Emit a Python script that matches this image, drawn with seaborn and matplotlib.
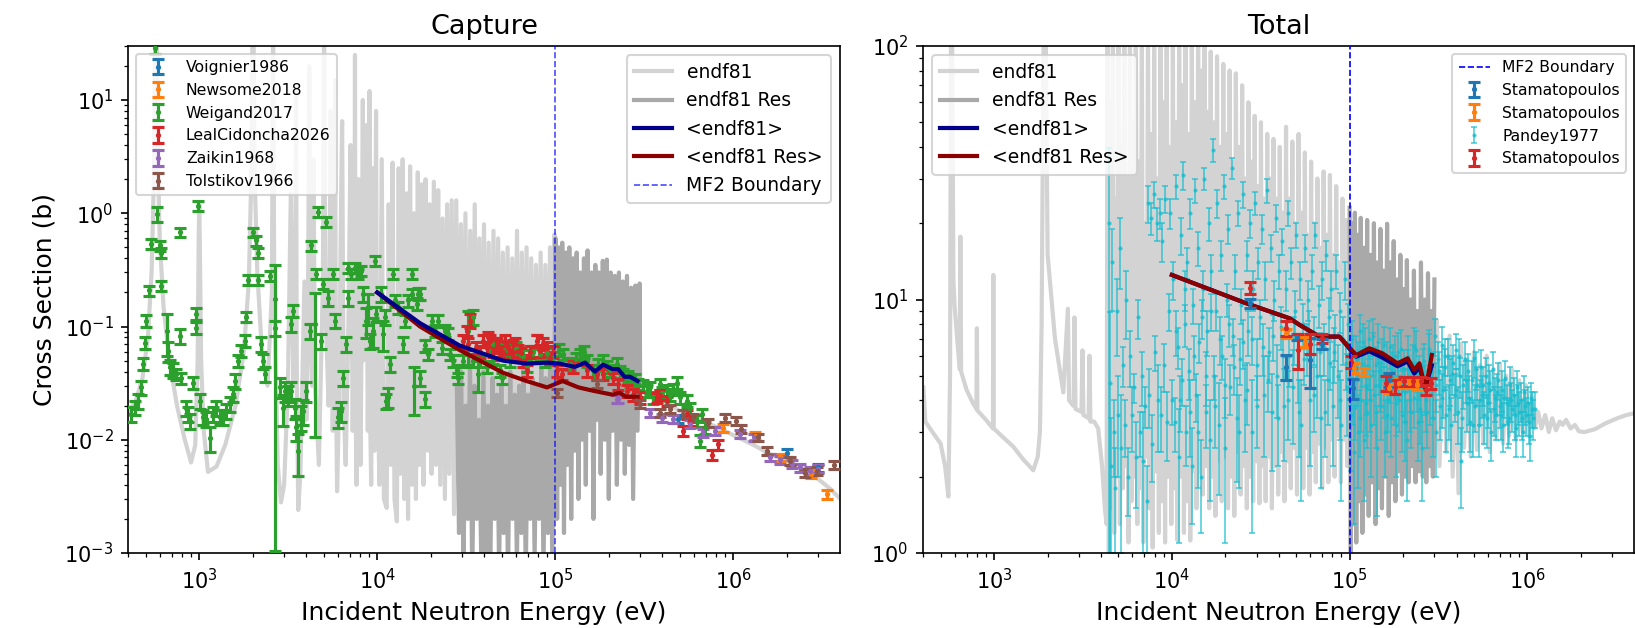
import matplotlib
matplotlib.use("Agg")
import matplotlib.pyplot as plt
import seaborn as sns

plt.rcParams['font.family'] = ['DejaVu Sans']

# ---------------- Capture: evaluated curves (E in eV, xs in barn) ----------------
cap_low = [
    (400, 0.018), (440, 0.022), (480, 0.035), (515, 0.08), (540, 0.3), (558, 2.5),
    (566, 40), (578, 40), (586, 3.0), (600, 0.6), (630, 0.15), (680, 0.05), (750, 0.02),
    (830, 0.01), (900, 0.0063), (950, 0.009), (980, 0.05), (993, 0.6), (1000, 1.2),
    (1007, 0.6), (1025, 0.05), (1060, 0.012), (1120, 0.0052), (1250, 0.0058), (1400, 0.009),
    (1600, 0.02), (1780, 0.06), (1900, 0.25), (1960, 2.0), (1990, 40), (2020, 40), (2050, 2.0),
    (2120, 0.3), (2250, 0.06), (2420, 0.03), (2560, 0.2), (2600, 40), (2640, 0.2),
    (2760, 0.006), (2880, 0.0028), (3000, 0.004), (3150, 0.03), (3270, 1.5), (3380, 0.03),
    (3460, 0.2), (3500, 12), (3530, 0.05), (3600, 0.0024), (3700, 0.005), (3900, 0.25),
    (4000, 0.015), (4100, 0.4), (4150, 20), (4200, 0.1), (4300, 0.03), (4380, 3.0),
    (4480, 0.03), (4700, 0.006), (4950, 0.25), (5030, 40), (5120, 0.15), (5330, 0.02),
    (5480, 8.0), (5620, 0.012), (5750, 0.3), (5800, 15), (5850, 0.05), (5950, 0.0035),
    (6100, 0.02), (6250, 0.9), (6350, 6.5), (6480, 0.02), (6650, 0.006), (6900, 0.12),
    (7080, 4.0), (7280, 0.012), (7450, 0.3), (7500, 25), (7560, 0.02), (7650, 0.004),
    (7850, 2.0), (8050, 0.006), (8250, 0.5), (8300, 10), (8350, 0.05), (8500, 0.4),
    (8650, 6.0), (8850, 0.012), (9000, 0.2), (9050, 12), (9100, 0.02), (9250, 0.004),
    (9450, 2.5), (9650, 0.008), (9850, 8.0), (9950, 0.05),
]
cap_forest = [
    (10300, 0.004), (10600, 3.0), (10900, 0.003), (11300, 0.0025), (11600, 1.2), (11900, 0.006),
    (12200, 2.8), (12500, 0.003), (12900, 0.0019), (13200, 2.5), (13500, 0.005), (13900, 3.0),
    (14200, 0.003), (14600, 1.5), (14900, 0.002), (15300, 2.6), (15700, 0.004), (16100, 1.0),
    (16500, 0.003), (16900, 2.3), (17300, 0.006), (17800, 1.8), (18200, 0.004), (18700, 2.0),
    (19200, 0.008), (19700, 1.2), (20200, 0.005), (20800, 1.9), (21400, 0.006), (22000, 1.6),
    (22600, 0.004), (23300, 0.9), (24000, 0.003), (24700, 1.2), (25400, 0.005), (26200, 1.3),
    (27000, 0.0022), (27800, 1.3), (28600, 0.004), (29500, 0.8), (30400, 0.005), (31300, 1.0),
    (32300, 0.006), (33300, 0.7), (34300, 0.004), (35300, 1.2), (36400, 0.005), (37500, 0.6),
    (38600, 0.006), (39800, 0.8), (41000, 0.004), (42300, 0.55), (43600, 0.006), (45000, 0.7),
    (46400, 0.005), (47800, 0.6), (49300, 0.007), (50800, 0.45), (52400, 0.006), (54000, 0.5),
    (55700, 0.005), (57400, 0.4), (59200, 0.007), (61000, 0.7), (62900, 0.006), (64900, 0.45),
    (66900, 0.008), (69000, 0.5), (71100, 0.006), (73300, 0.4), (75600, 0.008), (77900, 0.35),
    (80300, 0.007), (82800, 0.45), (85400, 0.008), (88000, 0.35), (90700, 0.006), (93500, 0.5),
    (96400, 0.01), (99000, 0.65),
]
cap_smooth = [
    (100000, 0.045), (150000, 0.04), (200000, 0.035), (300000, 0.027), (400000, 0.022),
    (500000, 0.018), (600000, 0.016), (800000, 0.013), (1000000, 0.011), (1300000, 0.009),
    (1600000, 0.0075), (2000000, 0.0065), (2500000, 0.0055), (3000000, 0.0045),
    (3500000, 0.0037), (4000000, 0.003),
]
cap_res = [
    (28000, 0.03), (28800, 0.0015), (29600, 0.04), (30500, 0.0008), (31400, 0.02), (32300, 0.002),
    (33200, 0.05), (34200, 0.0006), (35200, 0.03), (36200, 0.002), (37300, 0.015), (38400, 0.0009),
    (39500, 0.04), (40700, 0.001), (41900, 0.02), (43100, 0.0005), (44400, 0.035), (45700, 0.002),
    (47000, 0.025), (48400, 0.0007), (49800, 0.03), (51300, 0.0015), (52800, 0.02), (54300, 0.0006),
    (55900, 0.04), (57500, 0.002), (59200, 0.025), (60900, 0.0008), (62700, 0.03), (64500, 0.0015),
    (66400, 0.045), (68300, 0.0006), (70300, 0.025), (72300, 0.002), (74400, 0.035), (76600, 0.0009),
    (78800, 0.03), (81100, 0.002), (83500, 0.05), (85900, 0.0007), (88400, 0.035), (91000, 0.0015),
    (93600, 0.045), (96300, 0.0008), (99000, 0.04),
    (100500, 0.6), (102500, 0.002), (104500, 0.5), (107000, 0.004), (109500, 0.55), (112000, 0.0015),
    (114500, 0.45), (117000, 0.006), (120000, 0.5), (123000, 0.002), (126000, 0.4), (129000, 0.008),
    (132000, 0.45), (135000, 0.003), (138000, 0.3), (141500, 0.01), (145000, 0.4), (148500, 0.004),
    (152000, 0.47), (156000, 0.012), (160000, 0.3), (164000, 0.002), (168000, 0.35), (172000, 0.015),
    (176000, 0.3), (180000, 0.005), (185000, 0.38), (190000, 0.01), (195000, 0.39), (200000, 0.003),
    (205000, 0.3), (210000, 0.012), (216000, 0.28), (222000, 0.004), (228000, 0.3), (234000, 0.01),
    (240000, 0.25), (246000, 0.005), (253000, 0.28), (260000, 0.009), (267000, 0.22), (274000, 0.003),
    (282000, 0.23), (290000, 0.012), (298000, 0.24), (300000, 0.03),
]
cap_avg = [
    (10000, 0.2), (17400, 0.107), (29000, 0.068), (51000, 0.050), (69000, 0.047), (90000, 0.048),
    (106000, 0.047), (129000, 0.044), (147000, 0.048), (167000, 0.040), (186000, 0.046),
    (210000, 0.042), (226000, 0.042), (245000, 0.036), (263000, 0.036), (290000, 0.033),
]
cap_avg_res = [
    (10000, 0.2), (17400, 0.10), (29000, 0.062), (51000, 0.039), (69000, 0.033), (90000, 0.029),
    (110000, 0.033), (135000, 0.029), (165000, 0.027), (210000, 0.025), (230000, 0.026),
    (250000, 0.024), (290000, 0.024),
]

# ---------------- Capture: measurements (E, xs, relative error) ----------------
voignier = [(492000, 0.0152, 0.08), (2.0e6, 0.0077, 0.08), (3.0e6, 0.0057, 0.08)]
newsome = [(880000, 0.0128, 0.08), (1.32e6, 0.0108, 0.08), (1.83e6, 0.0070, 0.08),
           (2.75e6, 0.005, 0.08), (3.35e6, 0.0033, 0.1)]
weigand = [
    (416, 0.0168, .15), (434, 0.0193, .15), (453, 0.022, .15), (469, 0.029, .15), (483, 0.047, .12),
    (494, 0.072, .12), (505, 0.113, .12), (520, 0.208, .1), (533, 0.54, .1), (562, 28.6, .1),
    (582, 0.99, .15), (600, 0.52, .1), (613, 0.45, .1), (613, 0.23, .1), (662, 0.092, .4),
    (668, 0.061, .2), (682, 0.044, .15), (713, 0.041, .15), (744, 0.038, .12), (776, 0.68, .1),
    (776, 0.083, .15), (794, 0.035, .12), (847, 0.019, .15), (865, 0.017, .15), (884, 0.0147, .15),
    (922, 0.032, .12), (963, 0.129, .12), (963, 0.098, .12), (985, 1.17, .1), (1006, 0.022, .15),
    (1050, 0.0158, .15), (1096, 0.0152, .15), (1145, 0.0104, .25), (1196, 0.0168, .15),
    (1248, 0.019, .15), (1303, 0.0158, .15), (1360, 0.0158, .15), (1420, 0.018, .15),
    (1483, 0.0206, .15), (1548, 0.0253, .15), (1595, 0.033, .15), (1652, 0.050, .12),
    (1726, 0.061, .12), (1800, 0.075, .12), (1840, 0.121, .1), (1880, 0.26, .1), (2005, 0.68, .1),
    (2094, 0.575, .1), (2140, 0.26, .1), (2140, 0.45, .1), (2234, 0.070, .15), (2282, 0.050, .15),
    (2354, 0.038, .15), (2489, 0.28, .1), (2655, 0.175, .994), (2655, 0.098, .15), (2831, 0.029, .2),
    (2957, 0.019, .3), (3020, 0.027, .2), (3155, 0.025, .2), (3297, 0.027, .2), (3297, 0.105, .15),
    (3380, 0.137, .12), (3436, 0.019, .2), (3515, 0.0129, .25), (3589, 0.0080, .4),
    (3750, 0.0158, .25), (3830, 0.018, .25), (4000, 0.027, .2), (4178, 0.092, .15), (4230, 0.52, .1),
    (4460, 0.105, .9), (4550, 0.29, .1), (4650, 1.03, .1), (4850, 0.075, .15), (4960, 0.238, .1),
    (5180, 0.84, .1), (5290, 0.18, .15), (5650, 0.29, .1), (5770, 0.113, .15), (6030, 0.0158, .2),
    (6290, 0.018, .2), (6430, 0.035, .15), (6710, 0.07, .15), (6850, 0.18, .15), (6850, 0.33, .1),
    (7160, 0.29, .1), (7470, 0.33, .1), (7800, 0.29, .1), (8140, 0.31, .1), (8320, 0.194, .15),
    (8690, 0.113, .3), (8870, 0.148, .3), (9070, 0.075, .15), (9460, 0.092, .3), (9670, 0.38, .1),
    (9890, 0.129, .15), (10540, 0.194, .15), (10800, 0.086, .3), (11020, 0.121, .15),
    (11250, 0.022, .15), (11560, 0.0237, .2), (11800, 0.047, .15), (12300, 0.29, .1),
    (12600, 0.17, .12), (13150, 0.148, .12), (14000, 0.07, .15), (14300, 0.113, .12),
    (14970, 0.17, .12), (15600, 0.29, .1), (15600, 0.194, .1), (16000, 0.03, .45),
    (16700, 0.158, .12), (17000, 0.194, .12), (17400, 0.035, .15), (17500, 0.194, .12),
    (18500, 0.0228, .15), (18500, 0.068, .12), (19400, 0.057, .12), (20200, 0.113, .12),
    (21100, 0.092, .12), (22000, 0.113, .12), (23000, 0.065, .12), (24000, 0.092, .12),
    (25100, 0.086, .12), (25600, 0.057, .12), (26800, 0.05, .12), (27900, 0.041, .12),
    (28400, 0.035, .12), (30500, 0.05, .12), (32500, 0.092, .5), (34700, 0.121, .15),
    (34700, 0.05, .12), (37000, 0.038, .3), (37800, 0.05, .12), (41200, 0.044, .12),
    (44900, 0.053, .12), (45000, 0.07, .12), (49000, 0.041, .12), (50000, 0.035, .12),
    (52000, 0.062, .12), (55700, 0.05, .12), (60000, 0.065, .12), (63400, 0.057, .12),
    (66000, 0.055, .12), (69100, 0.045, .12), (75000, 0.06, .12), (78700, 0.075, .12),
    (82200, 0.057, .12), (87700, 0.05, .12), (90000, 0.058, .12), (97500, 0.053, .12),
    (105000, 0.062, .12), (111000, 0.057, .12), (121000, 0.047, .12), (130000, 0.052, .12),
    (138000, 0.057, .12), (145000, 0.06, .12), (150000, 0.05, .12), (164000, 0.041, .12),
    (175000, 0.046, .12), (186000, 0.05, .12), (195000, 0.044, .12), (203000, 0.041, .12),
    (221000, 0.047, .12), (230000, 0.04, .12), (241000, 0.038, .12), (255000, 0.036, .12),
    (263000, 0.033, .12), (280000, 0.034, .12), (293000, 0.031, .12), (310000, 0.03, .12),
    (327000, 0.027, .12), (340000, 0.029, .12), (356000, 0.0237, .12), (388000, 0.031, .12),
    (400000, 0.026, .12), (423000, 0.027, .12), (440000, 0.025, .12), (461000, 0.028, .12),
    (481000, 0.032, .12), (502000, 0.0237, .12), (547000, 0.022, .12), (571000, 0.019, .12),
    (623000, 0.0147, .12), (651000, 0.0098, .12), (665000, 0.0168, .12), (694000, 0.0128, .12),
]
leal = [
    (30500, 0.075, .12), (31800, 0.092, .1), (32300, 0.07, .12), (33200, 0.113, .15),
    (36000, 0.065, .12), (38000, 0.06, .12), (39400, 0.075, .12), (41200, 0.065, .12),
    (42000, 0.08, .12), (43000, 0.075, .12), (44900, 0.061, .12), (46900, 0.07, .12),
    (48000, 0.066, .12), (49000, 0.057, .12), (51000, 0.06, .12), (52200, 0.075, .12),
    (54600, 0.065, .12), (56900, 0.057, .12), (58000, 0.068, .12), (59400, 0.07, .12),
    (62100, 0.061, .12), (64000, 0.058, .12), (66200, 0.05, .12), (69100, 0.041, .12),
    (72000, 0.06, .12), (78700, 0.075, .12), (82200, 0.061, .12), (85000, 0.07, .12),
    (89500, 0.065, .12), (93500, 0.053, .12), (97000, 0.06, .12), (102000, 0.041, .12),
    (109000, 0.038, .12), (126000, 0.044, .12), (150000, 0.041, .12), (171000, 0.038, .12),
    (186000, 0.038, .12), (212000, 0.035, .12), (226000, 0.031, .12), (252000, 0.027, .12),
    (275000, 0.025, .12), (299000, 0.0237, .12), (371000, 0.0237, .1), (388000, 0.025, .1),
    (423000, 0.022, .1), (525000, 0.012, .1), (547000, 0.0168, .1), (571000, 0.0147, .1),
    (757000, 0.0074, .1), (825000, 0.0091, .1),
]
zaikin = [
    (221000, 0.023, .08), (226000, 0.0229, .08), (340000, 0.0174, .08), (396000, 0.0157, .08),
    (461000, 0.0152, .08), (571000, 0.0137, .08), (680000, 0.0116, .08), (790000, 0.012, .08),
    (1.09e6, 0.0112, .08), (1.30e6, 0.0105, .08), (1.61e6, 0.0070, .08), (1.83e6, 0.0067, .08),
    (2.13e6, 0.0061, .08), (2.37e6, 0.0057, .08), (2.70e6, 0.0053, .08), (3.0e6, 0.0055, .08),
]
tolstikov = [
    (102000, 0.026, .08), (171000, 0.031, .08), (299000, 0.0206, .08), (388000, 0.0174, .08),
    (441000, 0.0186, .08), (525000, 0.0168, .08), (597000, 0.0157, .08), (725000, 0.0142, .08),
    (899000, 0.0157, .08), (1.04e6, 0.0147, .08), (1.11e6, 0.0124, .08), (1.38e6, 0.0105, .08),
    (1.54e6, 0.008, .08), (2.08e6, 0.0065, .08), (2.53e6, 0.0051, .08), (2.94e6, 0.0053, .08),
    (3.7e6, 0.006, .08),
]

# ---------------- Total: evaluated curves ----------------
tot_low = [
    (400, 4.5), (410, 3.3), (450, 3.0), (500, 2.7), (530, 2.2), (553, 1.67), (565, 5.0),
    (572, 120), (580, 120), (590, 12), (600, 9.3), (640, 5.3), (646, 17.7), (652, 5.2),
    (700, 4.4), (760, 3.9), (795, 3.7), (800, 7.7), (805, 3.65), (900, 3.35), (985, 3.1),
    (990, 12.5), (995, 3.1), (1100, 2.9), (1280, 2.63), (1450, 2.35), (1660, 2.12), (1760, 2.4),
    (1810, 3.0), (1850, 8.0), (1900, 120), (1950, 120), (2000, 15), (2200, 7.0), (2450, 4.3),
    (2600, 9.2), (2640, 4.0), (2800, 3.8), (2830, 8.5), (2870, 3.7), (3100, 3.6), (3140, 6.3),
    (3180, 3.5), (3400, 3.4), (3440, 6.0), (3480, 3.3), (3650, 3.3), (3850, 3.1), (4050, 2.2),
    (4200, 1.5), (4290, 1.3),
]
tot_forest = [
    (4350, 120), (4420, 1.0), (4500, 60), (4580, 1.5), (4660, 120), (4740, 1.2), (4830, 25),
    (4920, 2.0), (5010, 120), (5100, 1.3), (5200, 40), (5300, 1.8), (5400, 120), (5500, 2.2),
    (5600, 30), (5700, 1.1), (5810, 120), (5920, 1.6), (6030, 50), (6150, 2.0), (6270, 120),
    (6390, 1.3), (6520, 35), (6650, 1.8), (6780, 120), (6910, 1.1), (7050, 20), (7200, 2.4),
    (7340, 120), (7490, 1.5), (7640, 45), (7800, 1.05), (7950, 120), (8110, 2.1), (8280, 30),
    (8450, 1.2), (8620, 120), (8800, 1.6), (8980, 60), (9160, 1.1), (9350, 120), (9540, 2.0),
    (9730, 40), (9930, 1.3), (10130, 120), (10340, 1.8), (10550, 50), (10770, 1.12),
    (10990, 120), (11220, 2.0), (11450, 70), (11690, 1.2), (11930, 120), (12180, 1.6),
    (12430, 45), (12690, 1.12), (12950, 120), (13220, 2.1), (13490, 60), (13770, 1.5),
    (14050, 120), (14340, 2.07), (14640, 80), (14940, 1.7), (15250, 120), (15560, 2.2),
    (15880, 55), (16210, 1.5), (16540, 95), (16880, 2.0), (17230, 50), (17590, 1.4),
    (17950, 91), (18320, 2.3), (18700, 40), (19080, 1.6), (19470, 85), (19870, 2.4),
    (20280, 45), (20700, 1.5), (21130, 80), (21560, 2.0), (22000, 35), (22450, 1.4),
    (22910, 78), (23380, 2.5), (23860, 40), (24350, 1.7), (24850, 70), (25360, 2.2),
    (25880, 30), (26410, 1.5), (26950, 60), (27500, 2.0), (28070, 35), (28650, 1.6),
    (29240, 53), (29840, 2.3), (30450, 28), (31070, 1.57), (31710, 50), (32360, 2.2),
    (33020, 25), (33700, 1.6), (34390, 45), (35100, 2.4), (35820, 30), (36550, 1.5),
    (37300, 43), (38070, 2.2), (38850, 25), (39650, 1.7), (40460, 40), (41290, 2.5),
    (42140, 22), (43000, 1.6), (43880, 48), (44780, 2.3), (45700, 25), (46640, 1.8),
    (47600, 42), (48580, 2.6), (49570, 20), (50590, 1.7), (51630, 45), (52690, 2.4),
    (53770, 22), (54870, 1.8), (56000, 38), (57150, 2.6), (58320, 18), (59510, 1.7),
    (60730, 35), (61980, 2.5), (63250, 20), (64550, 1.9), (65870, 30), (67220, 2.7),
    (68600, 16), (70010, 1.8), (71440, 32), (72910, 2.6), (74400, 18), (75930, 1.9),
    (77490, 31), (79080, 2.8), (80700, 15), (82350, 2.0), (84040, 28), (85760, 2.9),
    (87520, 14), (89320, 1.9), (91150, 25), (93020, 2.8), (94930, 20.6), (96880, 2.2),
    (98860, 18),
]
tot_high = [
    (103000, 8.0), (107000, 2.0), (111000, 9.0), (115000, 1.8), (120000, 7.5), (125000, 2.2),
    (130000, 8.5), (135000, 1.9), (140000, 7.0), (146000, 2.3), (152000, 8.0), (158000, 2.0),
    (165000, 7.2), (172000, 2.4), (179000, 7.8), (186000, 2.1), (194000, 6.8), (202000, 2.5),
    (210000, 7.5), (219000, 2.2), (228000, 6.5), (237000, 2.6), (247000, 7.2), (257000, 2.3),
    (268000, 6.3), (279000, 2.6), (290000, 7.0), (300000, 2.4), (310000, 8.3), (320000, 2.2),
    (335000, 6.5), (350000, 2.5), (365000, 7.2), (380000, 2.0), (395000, 6.0), (410000, 1.72),
    (425000, 6.7), (440000, 2.6), (460000, 5.8), (480000, 2.4), (500000, 6.2), (520000, 2.55),
    (540000, 5.5), (565000, 2.7), (590000, 6.0), (615000, 2.5), (640000, 5.2), (670000, 2.8),
    (700000, 5.6), (730000, 2.7), (760000, 5.0), (790000, 2.9), (820000, 5.3), (860000, 2.8),
    (900000, 4.8), (940000, 3.0), (980000, 4.6), (1020000, 2.9), (1060000, 4.2), (1100000, 3.1),
    (1150000, 3.6), (1200000, 3.1), (1260000, 3.5), (1320000, 3.0), (1380000, 3.4),
    (1450000, 3.05), (1520000, 3.3), (1580000, 3.2), (1650000, 3.35), (1750000, 3.1),
    (1850000, 3.2), (1950000, 3.02), (2100000, 3.0), (2400000, 3.08), (2760000, 3.25),
    (3200000, 3.4), (3600000, 3.5), (4000000, 3.56),
]
tot_res = [
    (100000, 23), (101500, 1.0), (103000, 20), (105000, 1.3), (107000, 22), (109000, 1.1),
    (111000, 18), (113000, 1.6), (115500, 21), (118000, 1.2), (120500, 16), (123000, 1.7),
    (125500, 20.6), (128000, 1.4), (131000, 15), (134000, 1.9), (137000, 20), (140000, 1.3),
    (143000, 14), (146000, 1.8), (149000, 19), (152000, 1.5), (155500, 13), (159000, 2.0),
    (162500, 19.9), (166000, 1.4), (169500, 14), (173000, 1.9), (177000, 17), (181000, 1.6),
    (185000, 12), (189000, 2.1), (193000, 15), (197000, 1.7), (201000, 11), (205000, 2.0),
    (210000, 14.3), (215000, 1.9), (220000, 10), (225000, 2.2), (230000, 13), (235000, 1.9),
    (240000, 9), (246000, 2.1), (252000, 14), (258000, 2.0), (264000, 10), (270000, 1.9),
    (276000, 12.7), (282000, 2.2), (288000, 9), (294000, 2.0), (300000, 12),
]
tot_avg = [
    (10000, 12.5), (26200, 9.66), (45900, 8.43), (52300, 7.94), (67600, 7.14), (87600, 7.14),
    (109000, 5.95), (129000, 6.25), (153000, 5.9), (186000, 5.45), (212000, 5.7), (231000, 5.1),
    (247000, 5.4), (267000, 4.5), (290000, 5.5),
]
tot_avg_res = [
    (10000, 12.5), (26200, 9.66), (45900, 8.43), (52300, 7.94), (67600, 7.14), (87600, 7.14),
    (109000, 6.04), (129000, 6.42), (153000, 6.13), (186000, 5.6), (212000, 5.86), (231000, 5.27),
    (247000, 5.6), (267000, 4.4), (290000, 6.04),
]

# ---------------- Total: measurements (E, xs, absolute error) ----------------
stam_blue = [(27400, 9.66, 0.4), (44000, 5.43, 0.6), (50400, 7.13, 0.2), (60000, 5.77, 1.3),
             (70000, 6.7, 0.3), (104000, 4.46, 0.4), (167000, 4.82, 0.3)]
stam_orange = [(43700, 7.36, 0.3), (55800, 6.8, 0.3), (106000, 5.36, 0.25), (121000, 5.19, 0.2),
               (167000, 4.46, 0.2), (190000, 4.67, 0.2), (217000, 4.67, 0.2), (240000, 4.6, 0.2)]
stam_red = [(27400, 11.1, 0.6), (43700, 7.7, 0.5), (51200, 6.3, 1.0), (60000, 6.7, 0.6),
            (70000, 7.03, 0.3), (102000, 5.69, 0.3), (160000, 4.67, 0.3), (179000, 4.53, 0.3),
            (203000, 4.75, 0.2), (226000, 4.75, 0.2), (252000, 4.75, 0.2), (269000, 4.4, 0.2),
            (287000, 4.67, 0.25)]
pandey_low = [
    (4420, 20, 19.5), (4500, 4.7, 4.2), (4550, 2.2, 1.2), (4620, 14, 5), (4700, 3.0, 1.0),
    (4800, 1.8, 0.8), (4900, 9, 3), (5000, 3.5, 1.5), (5100, 16, 5), (5200, 2.6, 1.6),
    (5300, 5.5, 1.0), (5450, 3.2, 0.8), (5550, 10, 3), (5700, 2.0, 0.6), (5850, 6.0, 1.5),
    (6000, 3.5, 1.0), (6150, 4.5, 0.6), (6300, 2.4, 0.9), (6450, 8.5, 1.5), (6600, 3.0, 0.6),
    (6750, 5.0, 1.2), (6900, 2.3, 1.3), (7050, 3.8, 0.7), (7200, 1.6, 0.6), (7300, 24, 4),
    (7450, 4.2, 1.1), (7600, 21, 3), (7750, 2.7, 0.8), (7900, 26, 3), (8050, 6.2, 1.0),
    (8200, 20, 3), (8400, 4.0, 1.5), (8550, 22, 3), (8700, 3.5, 1.0), (8850, 17, 3),
    (9000, 5.5, 1.2), (9200, 25, 3), (9400, 3.3, 1.0), (9600, 9.0, 1.5), (9800, 22, 3),
    (10000, 4.0, 0.8),
]
pandey_mid = [
    (10200, 12, 2), (10400, 3.3, 0.8), (10600, 28, 3), (10800, 6.5, 1.2), (11000, 2.4, 1.3),
    (11200, 18, 3), (11400, 4.8, 1.0), (11600, 31, 4), (11800, 8, 1.5), (12000, 3.0, 0.8),
    (12200, 14, 2), (12450, 5.2, 1.2), (12700, 22, 3), (12950, 2.2, 0.9), (13200, 9.5, 1.5),
    (13450, 27, 3), (13700, 4.2, 0.9), (14000, 16, 2.5), (14300, 6.8, 1.2), (14600, 2.0, 0.8),
    (14900, 11, 2), (15200, 30, 3), (15500, 3.6, 1.0), (15800, 7.5, 1.5), (16100, 20, 3),
    (16400, 2.8, 1.2), (16700, 13, 2), (17000, 39, 4), (17300, 5.0, 1.0), (17700, 9, 1.5),
    (18000, 24, 3), (18400, 3.2, 1.5), (18800, 15, 2), (19200, 6.0, 1.2), (19600, 28, 3),
    (20000, 2.6, 1.5), (20400, 10, 1.5), (20800, 19, 2.5), (21200, 4.5, 1.0), (21700, 33, 3),
    (22100, 7.2, 1.2), (22600, 13, 2), (23100, 3.4, 1.5), (23600, 22, 2.5), (24100, 5.8, 1.2),
    (24600, 9.5, 1.5), (25200, 26, 3), (25700, 4.0, 1.5), (26300, 15, 2), (26900, 7.5, 1.5),
    (27500, 20, 2.5), (28100, 3.0, 1.8), (28700, 11, 2), (29400, 24, 2.5), (30000, 5.5, 1.5),
    (30700, 14, 2), (31400, 8.5, 1.5), (32100, 19, 2.5), (32800, 4.2, 1.8), (33600, 12, 2),
    (34300, 27, 3), (35100, 6.2, 1.5), (35900, 16, 2), (36700, 3.6, 1.5), (37500, 10, 1.8),
    (38400, 21, 2.5), (39200, 5.0, 1.6), (40100, 13, 2), (41000, 7.8, 1.5), (41900, 17, 2),
    (42900, 3.8, 1.5), (43800, 11, 2), (44800, 22, 2.5), (45800, 6.0, 1.5), (46800, 14, 2),
    (47900, 4.5, 1.8), (49000, 9, 1.8), (50100, 18, 2), (51200, 5.5, 1.6), (52400, 12, 2),
    (53600, 3.2, 1.6), (54800, 8, 1.6), (56000, 16, 2), (57300, 6.5, 1.5), (58600, 10, 1.8),
    (59900, 4.0, 1.8), (61300, 13, 2), (62700, 7.0, 1.5), (64100, 18, 2), (65600, 5.0, 1.6),
    (67100, 9.5, 1.8), (68600, 3.4, 1.6), (70200, 12, 2), (71800, 6.5, 1.5), (73400, 15, 2),
    (75100, 4.8, 1.6), (76800, 8.5, 1.6), (78500, 11, 2), (80300, 3.8, 1.6), (82100, 6.2, 1.5),
    (84000, 13, 2), (85900, 5.0, 1.6), (87900, 9, 1.6), (89900, 3.2, 1.6), (91900, 7.0, 1.5),
    (94000, 12, 2), (96100, 4.5, 1.6), (98300, 8, 1.6),
]
pandey_high = [
    (100500, 5.5, 1.2), (102000, 3.5, 1.4), (103500, 7.0, 1.2), (105000, 4.2, 1.0),
    (106500, 2.5, 1.2), (108000, 6.0, 1.2), (110000, 4.8, 1.0), (112000, 3.0, 1.2),
    (114000, 7.5, 1.2), (116000, 4.0, 1.0), (118000, 5.5, 1.0), (120000, 2.8, 1.2),
    (122000, 6.5, 1.2), (124000, 4.5, 1.0), (126000, 3.6, 1.0), (128000, 7.0, 1.2),
    (130000, 5.0, 1.0), (132500, 3.2, 1.2), (135000, 6.2, 1.2), (137500, 4.2, 1.0),
    (140000, 5.5, 1.0), (142500, 2.6, 1.2), (145000, 6.8, 1.2), (147500, 4.6, 1.0),
    (150000, 3.8, 1.0), (153000, 6.0, 1.0), (156000, 4.4, 1.0), (159000, 3.0, 1.0),
    (162000, 5.8, 1.0), (165000, 4.0, 1.0), (168000, 6.5, 1.2), (171000, 3.4, 1.0),
    (174000, 5.2, 1.0), (177000, 4.2, 1.0), (180000, 6.0, 1.2), (183000, 3.2, 1.2),
    (186000, 5.0, 1.0), (190000, 4.0, 1.0), (194000, 6.4, 1.2), (198000, 3.5, 1.0),
    (202000, 5.3, 1.0), (206000, 4.3, 1.0), (210000, 2.8, 1.2), (214000, 6.0, 1.2),
    (218000, 4.6, 1.0), (222000, 3.6, 1.0), (226000, 5.6, 1.0), (231000, 4.1, 1.0),
    (236000, 6.3, 1.2), (241000, 3.3, 1.0), (246000, 5.0, 1.0), (251000, 4.3, 1.0),
    (256000, 2.6, 1.0), (261000, 5.7, 1.0), (266000, 4.5, 1.0), (272000, 3.6, 1.0),
    (278000, 6.1, 1.2), (284000, 4.2, 1.0), (290000, 5.2, 1.0), (296000, 3.4, 1.0),
    (302000, 7.2, 1.2), (308000, 4.6, 1.0), (315000, 5.8, 1.0), (322000, 3.8, 1.0),
    (329000, 6.6, 1.2), (336000, 4.4, 1.0), (343000, 5.4, 1.0), (350000, 3.5, 1.0),
    (358000, 6.0, 1.0), (366000, 4.8, 1.0), (374000, 3.2, 0.9), (382000, 5.6, 1.0),
    (390000, 4.2, 0.9), (399000, 6.3, 1.0), (408000, 3.6, 0.9), (417000, 5.0, 0.9),
    (426000, 2.3, 0.8), (436000, 4.6, 0.9), (446000, 5.8, 1.0), (456000, 3.9, 0.9),
    (466000, 5.2, 0.9), (477000, 3.3, 0.8), (488000, 4.8, 0.9), (499000, 5.9, 1.0),
    (510000, 3.8, 0.8), (522000, 4.6, 0.8), (534000, 3.2, 0.8), (546000, 5.4, 0.9),
    (558000, 4.2, 0.8), (571000, 3.5, 0.8), (584000, 5.0, 0.9), (597000, 3.9, 0.8),
    (611000, 4.7, 0.8), (625000, 3.0, 0.7), (639000, 5.3, 0.9), (654000, 4.1, 0.8),
    (669000, 3.5, 0.7), (684000, 4.8, 0.8), (700000, 3.8, 0.7), (716000, 4.4, 0.8),
    (732000, 3.2, 0.7), (749000, 4.9, 0.8), (766000, 3.9, 0.7), (784000, 3.4, 0.7),
    (802000, 4.6, 0.8), (820000, 3.7, 0.7), (839000, 4.2, 0.7), (858000, 3.1, 0.7),
    (878000, 4.5, 0.7), (898000, 3.6, 0.7), (919000, 4.0, 0.7), (940000, 3.0, 0.6),
    (961000, 4.3, 0.7), (983000, 3.5, 0.6), (1005000, 3.9, 0.6), (1028000, 2.9, 0.6),
    (1052000, 4.1, 0.6), (1076000, 3.4, 0.6), (1100000, 3.7, 0.6),
]
pandey_fill = [
    (10500, 7.5, 1.5), (11100, 4.0, 1.0), (11900, 11, 2), (12600, 3.6, 1.2), (13300, 6.0, 1.2),
    (14100, 3.0, 1.2), (14800, 8.5, 1.5), (15600, 5.0, 1.2), (16500, 9.0, 1.5), (17500, 3.8, 1.2),
    (18600, 7.0, 1.5), (19800, 4.6, 1.2), (21000, 8.0, 1.5), (22300, 5.4, 1.2), (23800, 3.0, 1.2),
    (25000, 6.8, 1.5), (26600, 4.4, 1.2), (28400, 7.0, 1.5), (30300, 3.8, 1.2), (32400, 6.5, 1.5),
    (34700, 4.8, 1.2), (37100, 7.2, 1.5), (39600, 3.4, 1.2), (42400, 6.0, 1.2), (45300, 4.0, 1.2),
    (48400, 7.0, 1.5), (51800, 3.6, 1.2), (55400, 5.8, 1.2), (59200, 7.5, 1.5), (63300, 4.2, 1.2),
    (67800, 6.2, 1.2), (72600, 3.6, 1.2), (77600, 5.6, 1.2), (83000, 7.2, 1.5), (88800, 4.0, 1.2),
    (95000, 5.6, 1.2),
    (101200, 4.8, 1.0), (104200, 6.2, 1.0), (107300, 3.8, 1.0), (111000, 5.8, 1.0),
    (115000, 3.4, 1.0), (119000, 6.8, 1.2), (123000, 3.9, 1.0), (127000, 5.4, 1.0),
    (131000, 4.0, 1.0), (136000, 7.2, 1.2), (141000, 3.6, 1.0), (146000, 5.2, 1.0),
    (151000, 4.8, 1.0), (157000, 6.6, 1.2), (163000, 3.5, 1.0), (169000, 4.9, 1.0),
    (176000, 5.6, 1.0), (182000, 3.9, 1.0), (188000, 6.2, 1.2), (196000, 4.6, 1.0),
    (204000, 3.3, 1.0), (212000, 5.3, 1.0), (220000, 4.0, 1.0), (229000, 6.5, 1.2),
    (238000, 4.6, 1.0), (248000, 3.7, 1.0), (258000, 5.4, 1.0), (269000, 4.0, 1.0),
    (281000, 6.4, 1.2), (293000, 4.4, 1.0), (305000, 3.0, 1.0), (318000, 5.2, 1.0),
    (332000, 4.1, 1.0), (346000, 6.0, 1.0), (361000, 3.7, 0.9), (378000, 5.1, 0.9),
    (395000, 4.4, 0.9), (413000, 6.0, 1.0), (431000, 3.4, 0.9), (451000, 4.8, 0.9),
    (472000, 4.1, 0.9), (494000, 3.2, 0.8), (516000, 5.3, 0.9), (540000, 4.0, 0.8),
    (565000, 4.6, 0.8), (591000, 3.4, 0.8), (618000, 4.4, 0.8), (647000, 3.7, 0.8),
    (677000, 4.3, 0.8), (708000, 3.5, 0.7), (741000, 4.1, 0.7), (775000, 3.3, 0.7),
    (811000, 4.0, 0.7), (849000, 3.5, 0.7), (888000, 3.9, 0.7), (929000, 3.4, 0.6),
    (972000, 3.8, 0.6), (1017000, 3.3, 0.6), (1064000, 3.7, 0.6),
]

MF2_BOUNDARY = 1e5


def curve(ax, pts, color, label, z=1, lw=2):
    e, s = zip(*pts)
    sns.lineplot(x=list(e), y=list(s), ax=ax, color=color, linewidth=lw, label=label,
                 sort=False, estimator=None, legend=False, zorder=z)


def points_rel(ax, pts, color, label):
    e, s, r = zip(*pts)
    err = [v * f for v, f in zip(s, r)]
    return ax.errorbar(e, s, yerr=err, fmt='.', ms=3, color=color, capsize=3,
                       capthick=1.5, elinewidth=1.5, label=label, zorder=3)


def points_abs(ax, pts, color, label, thin=False):
    e, s, d = zip(*pts)
    if thin:
        return ax.errorbar(e, s, yerr=d, fmt='.', ms=2, color=color, capsize=1.5, capthick=0.8,
                           elinewidth=0.8, alpha=0.75, label=label, zorder=2.5)
    return ax.errorbar(e, s, yerr=d, fmt='.', ms=3, color=color, capsize=3, capthick=1.5,
                       elinewidth=1.5, label=label, zorder=4)


fig = plt.figure(figsize=(10.9, 628 / 150), dpi=150)
ax1 = fig.add_axes([128 / 1635, 75 / 628, 712 / 1635, 507 / 628])
ax2 = fig.add_axes([923 / 1635, 75 / 628, 711 / 1635, 507 / 628])
for ax in (ax1, ax2):
    ax.set_xscale('log')
    ax.set_yscale('log')

# ---- Capture panel ----
curve(ax1, cap_low + cap_forest + cap_smooth, 'lightgray', 'endf81')
curve(ax1, cap_res, 'darkgray', 'endf81 Res', z=1.5)
hv = points_rel(ax1, voignier, 'tab:blue', 'Voignier1986')
hn = points_rel(ax1, newsome, 'tab:orange', 'Newsome2018')
hw = points_rel(ax1, weigand, 'tab:green', 'Weigand2017')
hl = points_rel(ax1, leal, 'tab:red', 'LealCidoncha2026')
hz = points_rel(ax1, zaikin, 'tab:purple', 'Zaikin1968')
ht = points_rel(ax1, tolstikov, 'tab:brown', 'Tolstikov1966')
curve(ax1, cap_avg_res, 'darkred', '<endf81 Res>', z=5)
curve(ax1, cap_avg, 'darkblue', '<endf81>', z=5.1)
ax1.axvline(MF2_BOUNDARY, color='blue', ls='--', lw=0.8, alpha=0.7, label='MF2 Boundary', zorder=6)

handles, labels = ax1.get_legend_handles_labels()
lookup = dict(zip(labels, handles))
line_names = ['endf81', 'endf81 Res', '<endf81>', '<endf81 Res>', 'MF2 Boundary']
leg_a = ax1.legend([lookup[n] for n in line_names], line_names, loc='upper right', fontsize=9)
ax1.add_artist(leg_a)
ax1.legend([hv, hn, hw, hl, hz, ht],
           ['Voignier1986', 'Newsome2018', 'Weigand2017', 'LealCidoncha2026', 'Zaikin1968',
            'Tolstikov1966'], loc='upper left', fontsize=7.5)
ax1.set_xlim(398, 3.98e6)
ax1.set_ylim(1e-3, 30)
ax1.set_title('Capture', fontsize=13)
ax1.set_xlabel('Incident Neutron Energy (eV)', fontsize=12)
ax1.set_ylabel('Cross Section (b)', fontsize=12)

# ---- Total panel ----
curve(ax2, tot_low + tot_forest + tot_high, 'lightgray', 'endf81')
curve(ax2, tot_res, 'darkgray', 'endf81 Res', z=1.5)
pandey = sorted(pandey_low + pandey_mid + pandey_fill + pandey_high)
hp = points_abs(ax2, pandey, 'tab:cyan', 'Pandey1977', thin=True)
curve(ax2, tot_avg, 'darkblue', '<endf81>', z=3)
curve(ax2, tot_avg_res, 'darkred', '<endf81 Res>', z=3.1)
hb = points_abs(ax2, stam_blue, 'tab:blue', 'Stamatopoulos')
ho = points_abs(ax2, stam_orange, 'tab:orange', 'Stamatopoulos')
hr = points_abs(ax2, stam_red, 'tab:red', 'Stamatopoulos')
mf = ax2.axvline(MF2_BOUNDARY, color='blue', ls='--', lw=0.8, label='MF2 Boundary', zorder=6)

handles, labels = ax2.get_legend_handles_labels()
lookup = dict(zip(labels, handles))
line_names = ['endf81', 'endf81 Res', '<endf81>', '<endf81 Res>']
leg_b = ax2.legend([lookup[n] for n in line_names], line_names, loc='upper left', fontsize=9)
ax2.add_artist(leg_b)
ax2.legend([mf, hb, ho, hp, hr],
           ['MF2 Boundary', 'Stamatopoulos', 'Stamatopoulos', 'Pandey1977', 'Stamatopoulos'],
           loc='upper right', fontsize=7.5)
ax2.set_xlim(398, 3.98e6)
ax2.set_ylim(1, 100)
ax2.set_title('Total', fontsize=13)
ax2.set_xlabel('Incident Neutron Energy (eV)', fontsize=12)

fig.savefig('out.png', dpi=150)
